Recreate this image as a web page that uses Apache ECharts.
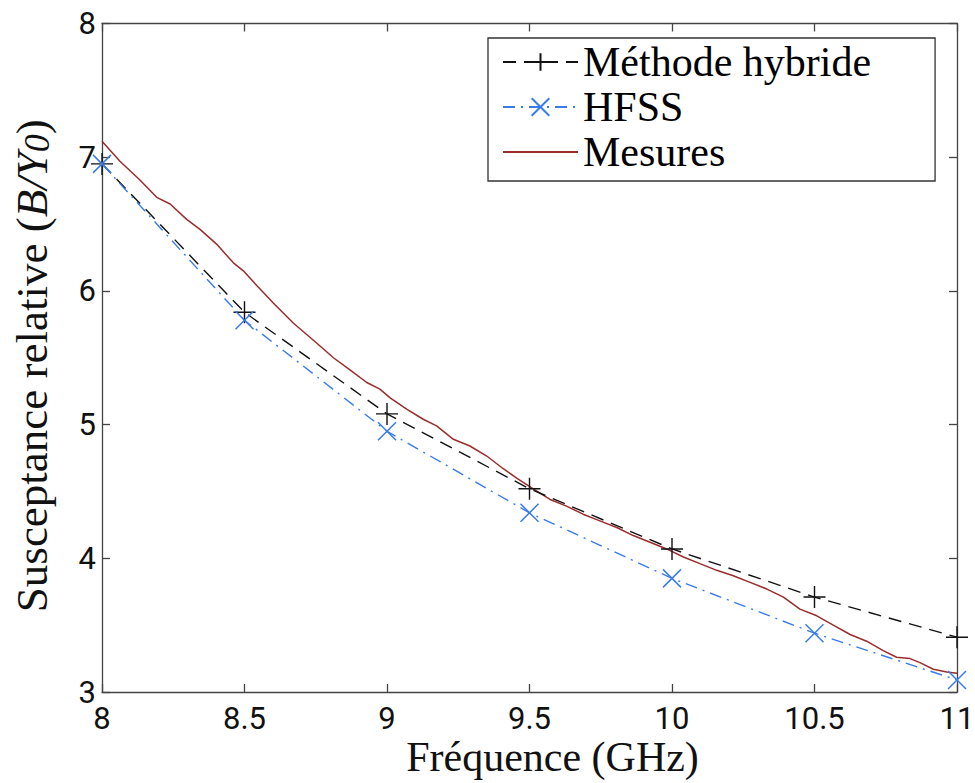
<!DOCTYPE html>
<html>
<head>
<meta charset="utf-8">
<script src="https://cdn.jsdelivr.net/npm/echarts@6/dist/echarts.min.js"></script>
<style>html,body{margin:0;padding:0;background:#fff}#c{width:975px;height:783px}</style>
</head>
<body>
<div id="c"></div>
<script>
// Data
const freqModel = [8, 8.5, 9, 9.5, 10, 10.5, 11];
const hybride = [6.95, 5.84, 5.08, 4.52, 4.07, 3.71, 3.41];
const hfss = [6.95, 5.78, 4.95, 4.34, 3.85, 3.44, 3.09];
const mesX = [8.000, 8.063, 8.133, 8.192, 8.239, 8.297, 8.344, 8.402, 8.461, 8.496, 8.543, 8.601, 8.671, 8.753, 8.812, 8.870, 8.929, 8.975, 9.011, 9.069, 9.127, 9.174, 9.233, 9.291, 9.350, 9.408, 9.455, 9.513, 9.572, 9.630, 9.688, 9.747, 9.806, 9.864, 9.923, 9.981, 10.040, 10.098, 10.157, 10.215, 10.274, 10.333, 10.391, 10.449, 10.508, 10.566, 10.625, 10.683, 10.741, 10.788, 10.835, 10.870, 10.917, 10.964, 11.000];
const mesY = [7.12, 6.97, 6.83, 6.70, 6.65, 6.535, 6.46, 6.35, 6.21, 6.15, 6.04, 5.91, 5.76, 5.61, 5.50, 5.41, 5.315, 5.265, 5.20, 5.115, 5.04, 4.99, 4.89, 4.84, 4.765, 4.67, 4.60, 4.52, 4.44, 4.39, 4.33, 4.28, 4.23, 4.17, 4.12, 4.07, 4.01, 3.96, 3.91, 3.87, 3.82, 3.77, 3.71, 3.62, 3.57, 3.50, 3.43, 3.38, 3.31, 3.26, 3.25, 3.22, 3.17, 3.15, 3.14];
const seriesNames = ['Méthode hybride', 'HFSS', 'Mesures'];
const xTitle = 'Fréquence (GHz)';
const yTitleMain = 'Susceptance relative (';
const yTitleItalic = 'B/Y';
const yTitleSub = '0';

const pair = (xs, ys) => xs.map((x, i) => [x, ys[i]]);
const axisColor = '#444';
const tickFont = { fontFamily: 'Roboto', fontSize: 31, color: '#111' };

const chart = echarts.init(document.getElementById('c'), null, { renderer: 'svg' });
chart.setOption({
  animation: false,
  backgroundColor: '#fff',
  grid: { left: 102, right: 18, top: 23.5, bottom: 91, containLabel: false, outerBoundsMode: 'none' },
  xAxis: [{
    type: 'value', min: 8, max: 11, interval: 0.5,
    name: xTitle, nameLocation: 'middle', nameGap: 47, nameMoveOverlap: false,
    nameTextStyle: { fontFamily: 'Liberation Serif', fontSize: 42, lineHeight: 36, color: '#111', padding: [0, 0, 0, 46] },
    axisLine: { lineStyle: { color: axisColor, width: 1.3 } },
    axisTick: { inside: true, length: 8, lineStyle: { color: axisColor, width: 1.3 } },
    axisLabel: Object.assign({ margin: 13, lineHeight: 26 }, tickFont),
    splitLine: { show: false }
  }, {
    type: 'value', min: 8, max: 11, interval: 0.5, position: 'top',
    axisLine: { show: true, lineStyle: { color: axisColor, width: 1.3 } },
    axisTick: { inside: true, length: 8, lineStyle: { color: axisColor, width: 1.3 } },
    axisLabel: { show: false }, splitLine: { show: false }
  }],
  yAxis: [{
    type: 'value', min: 3, max: 8, interval: 1,
    name: '{n|' + yTitleMain + '}{i|' + yTitleItalic + '}{s|' + yTitleSub + '}{n|)}',
    nameLocation: 'middle', nameGap: 47, nameMoveOverlap: false,
    nameTextStyle: {
      fontFamily: 'Liberation Serif', fontSize: 45, color: '#111', padding: [0, 16, 0, 0],
      rich: {
        n: { fontFamily: 'Liberation Serif', fontSize: 45, color: '#111' },
        i: { fontFamily: 'Liberation Serif', fontStyle: 'italic', fontSize: 45, color: '#111' },
        s: { fontFamily: 'Liberation Serif', fontStyle: 'italic', fontSize: 36, color: '#111', padding: [10, 0, 0, 0] }
      }
    },
    axisLine: { show: true, lineStyle: { color: axisColor, width: 1.3 } },
    axisTick: { inside: true, length: 8, lineStyle: { color: axisColor, width: 1.3 } },
    axisLabel: Object.assign({ margin: 6 }, tickFont),
    splitLine: { show: false }
  }, {
    type: 'value', min: 3, max: 8, interval: 1, position: 'right',
    axisLine: { show: true, lineStyle: { color: axisColor, width: 1.3 } },
    axisTick: { inside: true, length: 8, lineStyle: { color: axisColor, width: 1.3 } },
    axisLabel: { show: false }, splitLine: { show: false }
  }],
  legend: {
    orient: 'vertical', left: 488, top: 38,
    backgroundColor: '#fff', borderColor: '#333', borderWidth: 1.3,
    padding: [3, 64, 8, 14],
    itemWidth: 75, itemHeight: 22, itemGap: 3,
    textStyle: { fontFamily: 'Liberation Serif', fontSize: 42, color: '#000' },
    data: seriesNames
  },
  series: [{
    name: seriesNames[0], type: 'line', xAxisIndex: 0, yAxisIndex: 0,
    data: pair(freqModel, hybride),
    symbol: 'path://M10,0 L10,20 M0,10 L20,10', symbolSize: 22,
    itemStyle: { color: '#111', borderColor: '#111', borderWidth: 1.4 },
    lineStyle: { color: '#111', width: 1.4, type: [13, 8] },
    z: 3
  }, {
    name: seriesNames[1], type: 'line', xAxisIndex: 0, yAxisIndex: 0,
    data: pair(freqModel, hfss),
    symbol: 'path://M0,0 L20,20 M20,0 L0,20', symbolSize: 18,
    itemStyle: { color: '#3a7bea', borderColor: '#3a7bea', borderWidth: 1.5 },
    lineStyle: { color: '#3a7bea', width: 1.4, type: [12, 6, 2, 6] },
    z: 3
  }, {
    name: seriesNames[2], type: 'line', xAxisIndex: 0, yAxisIndex: 0,
    data: pair(mesX, mesY),
    symbol: 'path://M0,0 L1,1', showSymbol: false, smooth: false,
    itemStyle: { color: '#9a2c2c', borderWidth: 0 },
    lineStyle: { color: '#9a2c2c', width: 1.5 },
    z: 2
  }]
});
</script>
</body>
</html>
